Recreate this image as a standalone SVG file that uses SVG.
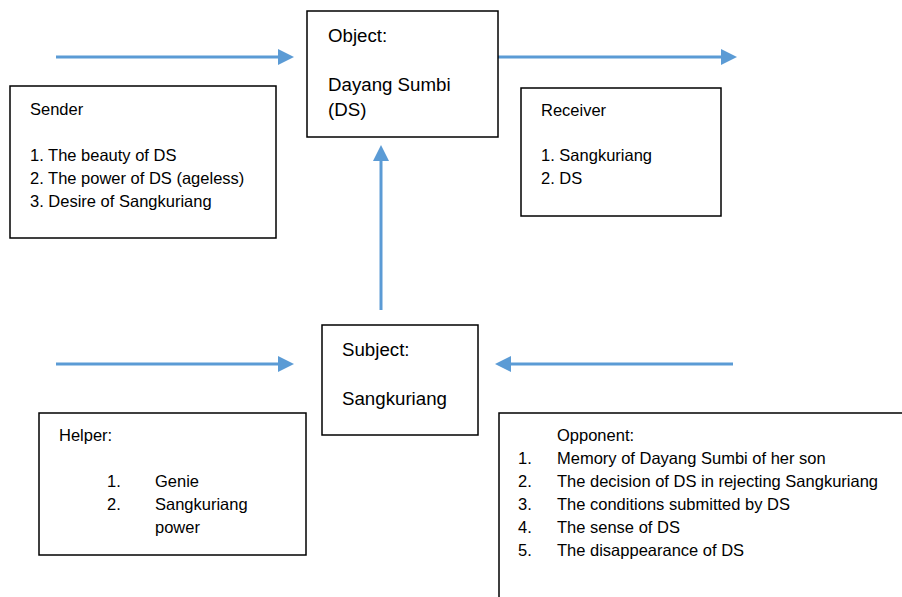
<svg xmlns="http://www.w3.org/2000/svg" width="902" height="597" viewBox="0 0 902 597">
<style>
.box{fill:#fff;stroke:#000;stroke-width:1.5}
.t{font-family:"Liberation Sans",Arial,sans-serif;font-size:16.5px;fill:#000}
.tl{font-family:"Liberation Sans",Arial,sans-serif;font-size:18.7px;fill:#000}
.c{stroke:#5B9BD5;stroke-width:3;fill:none;marker-end:url(#ah)}
</style>
<defs>
<marker id="ah" markerUnits="userSpaceOnUse" markerWidth="16" markerHeight="16" viewBox="0 0 16 16" refX="4" refY="8" orient="auto">
<path d="M0,0 L16,8 L0,16 z" fill="#5B9BD5"/>
</marker>
</defs>
<rect width="902" height="597" fill="#fff"/>
<g id="connectors">
<line class="c" x1="56" y1="57" x2="282" y2="57"/>
<line class="c" x1="498" y1="57" x2="725" y2="57"/>
<line class="c" x1="381" y1="310" x2="381" y2="157"/>
<line class="c" x1="56" y1="364" x2="282" y2="364"/>
<line class="c" x1="733" y1="364" x2="507" y2="364"/>
</g>
<g id="object">
<rect class="box" x="307" y="11" width="191" height="126"/>
<text class="tl" x="328" y="42">Object:</text>
<text class="tl" x="328" y="91">Dayang Sumbi</text>
<text class="tl" x="328" y="116">(DS)</text>
</g>
<g id="sender">
<rect class="box" x="10" y="86" width="266" height="152"/>
<text class="t" x="30" y="115">Sender</text>
<text class="t" x="30" y="161">1. The beauty of DS</text>
<text class="t" x="30" y="184">2. The power of DS (ageless)</text>
<text class="t" x="30" y="207">3. Desire of Sangkuriang</text>
</g>
<g id="receiver">
<rect class="box" x="521" y="88" width="200" height="128"/>
<text class="t" x="541" y="116">Receiver</text>
<text class="t" x="541" y="161">1. Sangkuriang</text>
<text class="t" x="541" y="184">2. DS</text>
</g>
<g id="subject">
<rect class="box" x="322" y="325" width="156" height="110"/>
<text class="tl" x="342" y="356">Subject:</text>
<text class="tl" x="342" y="405">Sangkuriang</text>
</g>
<g id="helper">
<rect class="box" x="39" y="413" width="267" height="142"/>
<text class="t" x="59" y="441">Helper:</text>
<text class="t" x="107" y="487">1.</text>
<text class="t" x="155" y="487">Genie</text>
<text class="t" x="107" y="510">2.</text>
<text class="t" x="155" y="510">Sangkuriang</text>
<text class="t" x="155" y="533">power</text>
</g>
<g id="opponent">
<rect class="box" x="499" y="413" width="420" height="200"/>
<text class="t" x="557" y="441">Opponent:</text>
<text class="t" x="518" y="464">1.</text>
<text class="t" x="557" y="464">Memory of Dayang Sumbi of her son</text>
<text class="t" x="518" y="487">2.</text>
<text class="t" x="557" y="487">The decision of DS in rejecting Sangkuriang</text>
<text class="t" x="518" y="510">3.</text>
<text class="t" x="557" y="510">The conditions submitted by DS</text>
<text class="t" x="518" y="533">4.</text>
<text class="t" x="557" y="533">The sense of DS</text>
<text class="t" x="518" y="556">5.</text>
<text class="t" x="557" y="556">The disappearance of DS</text>
</g>
</svg>
